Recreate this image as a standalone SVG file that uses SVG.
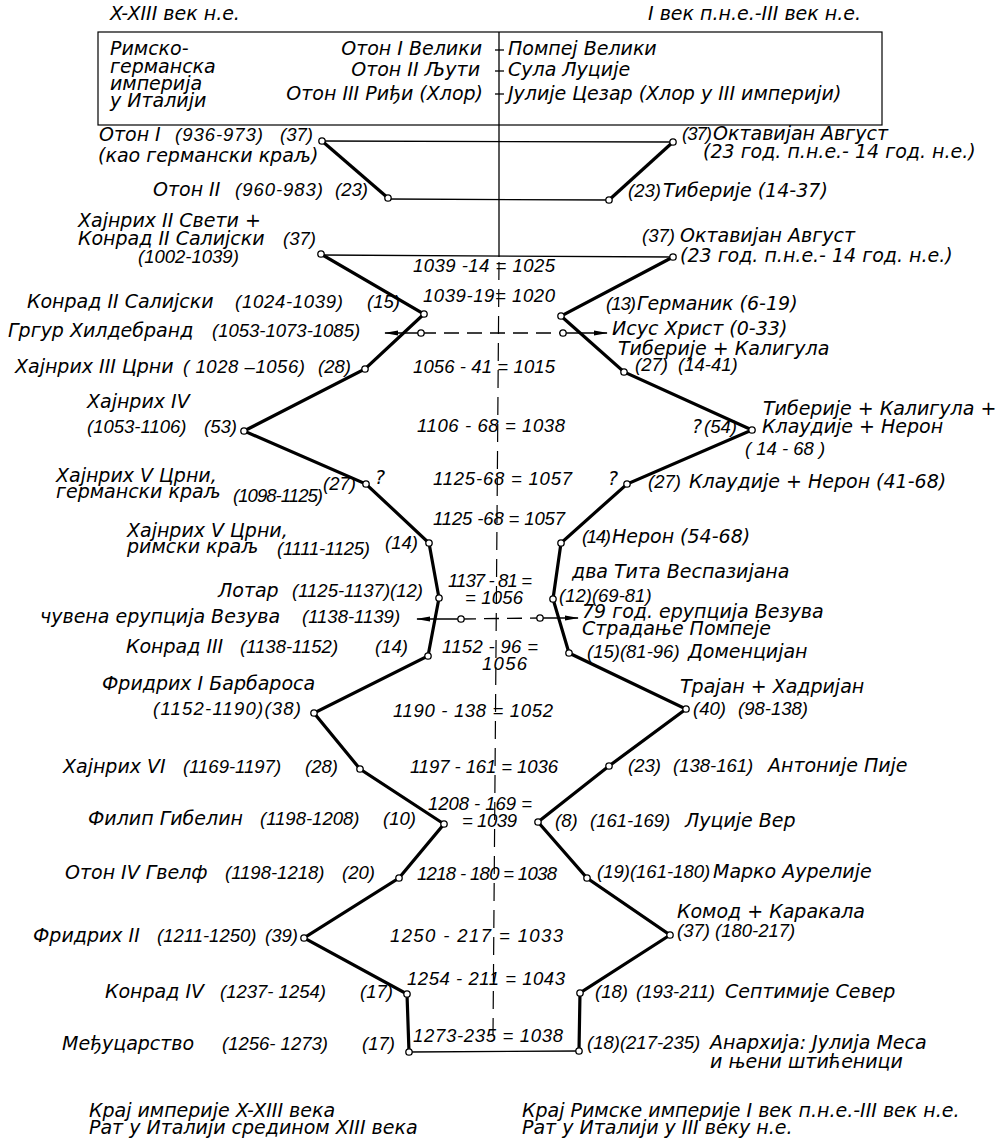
<svg xmlns="http://www.w3.org/2000/svg" width="1001" height="1141" viewBox="0 0 1001 1141">
<defs>
<style>
.n{font-family:"DejaVu Sans","Liberation Sans",sans-serif;font-style:italic;font-size:19px;fill:#000}
.d{font-family:"Liberation Sans","DejaVu Sans",sans-serif;font-style:italic;font-size:18.5px;fill:#000}
.e{font-family:"Liberation Sans","DejaVu Sans",sans-serif;font-style:italic;font-size:18.5px;fill:#000}
.thick{fill:none;stroke:#000;stroke-width:3.2;stroke-linejoin:miter}
.thin{fill:none;stroke:#000;stroke-width:1.3}
.dash{fill:none;stroke:#000;stroke-width:1.3;stroke-dasharray:15 8}
.cdash{fill:none;stroke:#000;stroke-width:1.2;stroke-dasharray:18 9}
.node{fill:#fff;stroke:#000;stroke-width:1.3}
</style>
<marker id="arr" viewBox="0 0 14 8" refX="13" refY="4" markerWidth="14" markerHeight="8" markerUnits="userSpaceOnUse" orient="auto">
<path d="M0,1.5 L14,4 L0,6.5 Z" fill="#000"/>
</marker>
</defs>
<rect width="1001" height="1141" fill="#fff"/>

<g id="header">
<text class="n" x="110" y="20">X-XIII век н.е.</text>
<text class="n" x="648" y="20">I век п.н.е.-III век н.е.</text>
<rect x="98" y="32" width="784" height="93" fill="none" stroke="#000" stroke-width="1.2"/>
<text class="n" x="110" y="55">Римско-</text>
<text class="n" x="110" y="72.5">германска</text>
<text class="n" x="110" y="90">империја</text>
<text class="n" x="110" y="107">у Италији</text>
<text class="n" x="482" y="55" text-anchor="end">Отон I Велики</text>
<text class="n" x="480" y="76" text-anchor="end">Отон II Љути</text>
<text class="n" x="483" y="100" text-anchor="end">Отон III Риђи (Хлор)</text>
<text class="n" x="508" y="55">Помпеј Велики</text>
<text class="n" x="508" y="76">Сула Луције</text>
<text class="n" x="508" y="100">Јулије Цезар (Хлор у III империји)</text>
</g>

<g id="connectors">
<line class="thin" x1="499" y1="32" x2="499" y2="257"/>
<line class="thin" x1="495" y1="50" x2="504" y2="50"/>
<line class="thin" x1="495" y1="71" x2="504" y2="71"/>
<line class="thin" x1="495" y1="94" x2="504" y2="94"/>
<line class="cdash" x1="499" y1="262" x2="493" y2="1035"/>
<line class="thin" x1="322" y1="141" x2="673" y2="142"/>
<line class="thin" x1="388" y1="199" x2="609" y2="200"/>
<line class="thin" x1="321" y1="255" x2="673" y2="257"/>
<line class="thin" x1="409" y1="1052" x2="579" y2="1051"/>
<polyline class="thick" points="322,141 388,198"/>
<polyline class="thick" points="673,142 609,200"/>
<polyline class="thick" points="321,254 424,314 365,369 244,431 366,484 429,543 439,598 428,656 314,713 360,769 444,824 399,878 304,938 407,994 409,1052"/>
<polyline class="thick" points="673,257 561,316 624,372 752,430 627,484 561,543 553,599 569,653 686,709 609,766 538,822 587,878 670,935 580,993 579,1051"/>
<line class="dash" x1="421" y1="333" x2="563" y2="333"/>
<line class="thin" x1="421" y1="333" x2="385" y2="333" marker-end="url(#arr)"/>
<line class="thin" x1="563" y1="333" x2="607" y2="333" marker-end="url(#arr)"/>
<line class="dash" x1="461" y1="619" x2="540" y2="618"/>
<line class="thin" x1="461" y1="619" x2="417" y2="619" marker-end="url(#arr)"/>
<line class="thin" x1="540" y1="618" x2="578" y2="618" marker-end="url(#arr)"/>
</g>

<g id="equations">
<text class="e" x="413" y="272" textLength="142">1039 -14 = 1025</text>
<text class="e" x="423" y="302" textLength="132">1039-19= 1020</text>
<text class="e" x="413" y="373" textLength="142">1056 - 41 = 1015</text>
<text class="e" x="417" y="432" textLength="148">1106 - 68 = 1038</text>
<text class="e" x="433" y="485" textLength="139">1125-68 = 1057</text>
<text class="e" x="433" y="525" textLength="132">1125 -68 = 1057</text>
<text class="e" x="448" y="587" textLength="84">1137 - 81 =</text>
<text class="e" x="465" y="604" textLength="58">= 1056</text>
<text class="e" x="442" y="653" textLength="96">1152 - 96 =</text>
<text class="e" x="482" y="670" textLength="45">1056</text>
<text class="e" x="393" y="717" textLength="160">1190 - 138 = 1052</text>
<text class="e" x="410" y="773" textLength="148">1197 - 161 = 1036</text>
<text class="e" x="428" y="810" textLength="104">1208 - 169 =</text>
<text class="e" x="462" y="827" textLength="55">= 1039</text>
<text class="e" x="417" y="880" textLength="140">1218 - 180 = 1038</text>
<text class="e" x="390" y="942" textLength="173">1250 - 217 =    1033</text>
<text class="e" x="407" y="985" textLength="158">1254 - 211 =  1043</text>
<text class="e" x="413" y="1042" textLength="150">1273-235 = 1038</text>
</g>

<g id="node-oton1"><circle class="node" cx="322" cy="141" r="3.2"/>
<text class="n" x="99" y="141">Отон I</text><text class="d" x="175" y="141" textLength="88">(936-973)</text><text class="d" x="280" y="141">(37)</text>
<text class="n" x="98" y="162">(као германски краљ)</text></g>
<g id="node-oton2"><circle class="node" cx="388" cy="198" r="3.2"/>
<text class="n" x="153" y="196">Отон II</text><text class="d" x="235" y="196" textLength="88">(960-983)</text><text class="d" x="335" y="196">(23)</text></g>
<g id="node-hajnrih2"><circle class="node" cx="321" cy="254" r="3.2"/>
<text class="n" x="78" y="227">Хајнрих II Свети +</text>
<text class="n" x="78" y="245">Конрад II Салијски</text><text class="d" x="283" y="245">(37)</text>
<text class="d" x="138" y="263">(1002-1039)</text></g>
<g id="node-konrad2"><circle class="node" cx="424" cy="314" r="3.2"/>
<text class="n" x="27" y="308">Конрад II Салијски</text><text class="d" x="235" y="308" textLength="108">(1024-1039)</text><text class="d" x="367" y="308">(15)</text></g>
<g id="node-grgur"><circle class="node" cx="421" cy="333" r="3.2"/>
<text class="n" x="8" y="337">Гргур Хилдебранд</text><text class="d" x="212" y="337">(1053-1073-1085)</text></g>
<g id="node-hajnrih3"><circle class="node" cx="365" cy="369" r="3.2"/>
<text class="n" x="15" y="373">Хајнрих III Црни</text><text class="d" x="183" y="373" textLength="122">( 1028 –1056)</text><text class="d" x="318" y="373">(28)</text></g>
<g id="node-hajnrih4"><circle class="node" cx="244" cy="431" r="3.2"/>
<text class="n" x="87" y="408">Хајнрих IV</text>
<text class="d" x="87" y="433">(1053-1106)</text><text class="d" x="204" y="433">(53)</text></g>
<g id="node-hajnrih5g"><circle class="node" cx="366" cy="484" r="3.2"/>
<text class="n" x="56" y="482">Хајнрих V Црни,</text>
<text class="n" x="56" y="498">германски краљ</text><text class="d" x="233" y="502" textLength="90">(1098-1125)</text><text class="d" x="323" y="490">(27)</text>
<text class="n" x="375" y="484">?</text></g>
<g id="node-hajnrih5r"><circle class="node" cx="429" cy="543" r="3.2"/>
<text class="n" x="127" y="537">Хајнрих V Црни,</text>
<text class="n" x="127" y="553">римски краљ</text><text class="d" x="277" y="555" textLength="93">(1111-1125)</text><text class="d" x="385" y="549">(14)</text></g>
<g id="node-lotar"><circle class="node" cx="439" cy="598" r="3.2"/>
<text class="n" x="218" y="597">Лотар</text><text class="d" x="292" y="597">(1125-1137)(12)</text></g>
<g id="node-vezuv-l"><circle class="node" cx="461" cy="619" r="3.2"/>
<text class="n" x="40" y="623">чувена ерупција Везува</text><text class="d" x="302" y="623">(1138-1139)</text></g>
<g id="node-konrad3"><circle class="node" cx="428" cy="656" r="3.2"/>
<text class="n" x="126" y="653">Конрад III</text><text class="d" x="240" y="653">(1138-1152)</text><text class="d" x="375" y="653">(14)</text></g>
<g id="node-fridrih1"><circle class="node" cx="314" cy="713" r="3.2"/>
<text class="n" x="102" y="690">Фридрих I Барбароса</text>
<text class="d" x="153" y="715" textLength="148">(1152-1190)(38)</text></g>
<g id="node-hajnrih6"><circle class="node" cx="360" cy="769" r="3.2"/>
<text class="n" x="63" y="773">Хајнрих VI</text><text class="d" x="183" y="773">(1169-1197)</text><text class="d" x="305" y="773">(28)</text></g>
<g id="node-filip"><circle class="node" cx="444" cy="824" r="3.2"/>
<text class="n" x="88" y="825">Филип Гибелин</text><text class="d" x="260" y="825">(1198-1208)</text><text class="d" x="383" y="825">(10)</text></g>
<g id="node-oton4"><circle class="node" cx="399" cy="878" r="3.2"/>
<text class="n" x="65" y="879">Отон IV Гвелф</text><text class="d" x="225" y="879">(1198-1218)</text><text class="d" x="342" y="879">(20)</text></g>
<g id="node-fridrih2"><circle class="node" cx="304" cy="938" r="3.2"/>
<text class="n" x="33" y="942">Фридрих II</text><text class="d" x="157" y="942">(1211-1250)</text><text class="d" x="265" y="942">(39)</text></g>
<g id="node-konrad4"><circle class="node" cx="407" cy="994" r="3.2"/>
<text class="n" x="105" y="998">Конрад IV</text><text class="d" x="220" y="998">(1237- 1254)</text><text class="d" x="360" y="998">(17)</text></g>
<g id="node-medjucarstvo"><circle class="node" cx="409" cy="1052" r="3.2"/>
<text class="n" x="62" y="1050">Међуцарство</text><text class="d" x="222" y="1050">(1256- 1273)</text><text class="d" x="362" y="1050">(17)</text></g>

<g id="node-oktavijan1"><circle class="node" cx="673" cy="142" r="3.2"/>
<text class="d" x="682" y="140" textLength="30">(37)</text><text class="n" x="713" y="140">Октавијан Август</text>
<text class="n" x="703" y="158">(23 год. п.н.е.- 14 год. н.е.)</text></g>
<g id="node-tiberije1"><circle class="node" cx="609" cy="200" r="3.2"/>
<text class="d" x="628" y="197">(23)</text><text class="n" x="663" y="197">Тиберије (14-37)</text></g>
<g id="node-oktavijan2"><circle class="node" cx="673" cy="257" r="3.2"/>
<text class="d" x="642" y="242">(37)</text><text class="n" x="680" y="242">Октавијан Август</text>
<text class="n" x="680" y="262">(23 год. п.н.е.- 14 год. н.е.)</text></g>
<g id="node-germanik"><circle class="node" cx="561" cy="316" r="3.2"/>
<text class="d" x="606" y="310" textLength="30">(13)</text><text class="n" x="637" y="310">Германик (6-19)</text></g>
<g id="node-isus"><circle class="node" cx="563" cy="333" r="3.2"/>
<text class="n" x="612" y="335">Исус Христ (0-33)</text></g>
<g id="node-kaligula"><circle class="node" cx="624" cy="372" r="3.2"/>
<text class="n" x="618" y="355">Тиберије + Калигула</text>
<text class="d" x="635" y="371">(27)</text><text class="d" x="678" y="371">(14-41)</text></g>
<g id="node-neron4"><circle class="node" cx="752" cy="430" r="3.2"/>
<text class="n" x="763" y="415">Тиберије + Калигула +</text>
<text class="n" x="762" y="433">Клаудије + Нерон</text>
<text class="n" x="692" y="433">?</text><text class="d" x="704" y="433">(54)</text>
<text class="d" x="745" y="455">( 14 - 68 )</text></g>
<g id="node-klaudije"><circle class="node" cx="627" cy="484" r="3.2"/>
<text class="n" x="608" y="485">?</text>
<text class="d" x="648" y="488">(27)</text><text class="n" x="689" y="488">Клаудије + Нерон (41-68)</text></g>
<g id="node-neron"><circle class="node" cx="561" cy="543" r="3.2"/>
<text class="d" x="582" y="543" textLength="29">(14)</text><text class="n" x="612" y="543">Нерон (54-68)</text></g>
<g id="node-tit"><circle class="node" cx="553" cy="599" r="3.2"/>
<text class="n" x="572" y="578">два Тита Веспазијана</text>
<text class="d" x="559" y="602">(12)(69-81)</text></g>
<g id="node-vezuv-r"><circle class="node" cx="540" cy="618" r="3.2"/>
<text class="n" x="582" y="618">79 год. ерупција Везува</text>
<text class="n" x="582" y="635">Страдање Помпеје</text></g>
<g id="node-domencijan"><circle class="node" cx="569" cy="653" r="3.2"/>
<text class="d" x="587" y="658">(15)(81-96)</text><text class="n" x="688" y="658">Доменцијан</text></g>
<g id="node-trajan"><circle class="node" cx="686" cy="709" r="3.2"/>
<text class="n" x="680" y="693">Трајан + Хадријан</text>
<text class="d" x="693" y="715">(40)</text><text class="d" x="738" y="715">(98-138)</text></g>
<g id="node-antonije"><circle class="node" cx="609" cy="766" r="3.2"/>
<text class="d" x="628" y="772">(23)</text><text class="d" x="673" y="772">(138-161)</text><text class="n" x="768" y="772">Антоније Пије</text></g>
<g id="node-lucije"><circle class="node" cx="538" cy="822" r="3.2"/>
<text class="d" x="555" y="827">(8)</text><text class="d" x="590" y="827">(161-169)</text><text class="n" x="685" y="827">Луције Вер</text></g>
<g id="node-marko"><circle class="node" cx="587" cy="878" r="3.2"/>
<text class="d" x="597" y="878">(19)(161-180)</text><text class="n" x="713" y="878">Марко Аурелије</text></g>
<g id="node-komod"><circle class="node" cx="670" cy="935" r="3.2"/>
<text class="n" x="677" y="918">Комод + Каракала</text>
<text class="d" x="677" y="937">(37)</text><text class="d" x="715" y="937">(180-217)</text></g>
<g id="node-septimije"><circle class="node" cx="580" cy="993" r="3.2"/>
<text class="d" x="595" y="998">(18)</text><text class="d" x="636" y="998">(193-211)</text><text class="n" x="725" y="998">Септимије Север</text></g>
<g id="node-anarhija"><circle class="node" cx="579" cy="1051" r="3.2"/>
<text class="d" x="587" y="1049">(18)(217-235)</text><text class="n" x="710" y="1049">Анархија: Јулија Меса</text>
<text class="n" x="710" y="1068">и њени штићеници</text></g>

<g id="footer">
<text class="n" x="89" y="1117">Крај империје X-XIII века</text>
<text class="n" x="89" y="1134">Рат у Италији средином XIII века</text>
<text class="n" x="522" y="1117">Крај Римске империје I век п.н.е.-III век н.е.</text>
<text class="n" x="522" y="1134">Рат у Италији у III веку н.е.</text>
</g>
</svg>
